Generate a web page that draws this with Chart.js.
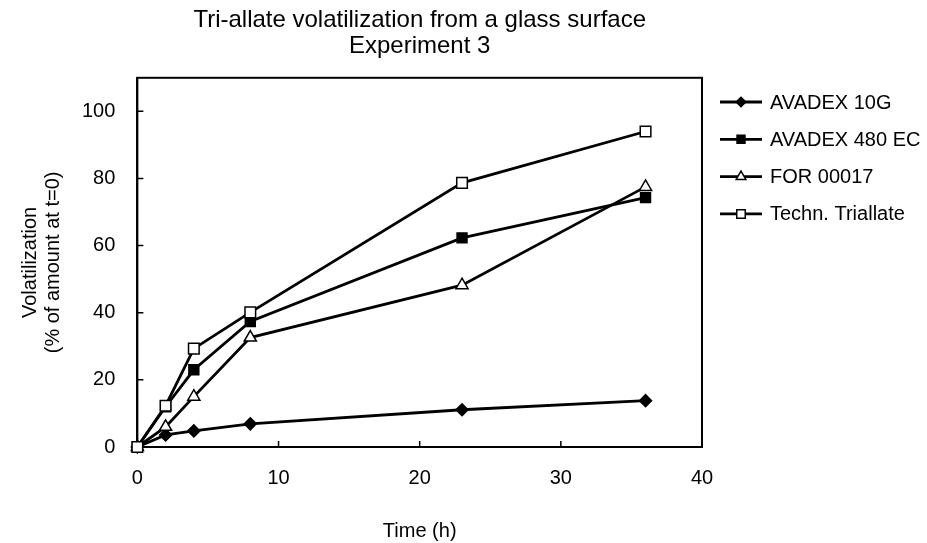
<!DOCTYPE html>
<html>
<head>
<meta charset="utf-8">
<script src="https://cdn.jsdelivr.net/npm/chart.js@4.4.1/dist/chart.umd.min.js"></script>
<style>
  html, body { margin: 0; padding: 0; background: #fff; }
  #wrap { width: 927px; height: 543px; }
</style>
</head>
<body>
<div id="wrap"><canvas id="chart1" width="927" height="543"></canvas></div>
<script>
var FONT = "'Liberation Sans Narrow', 'Arial Narrow', 'Liberation Sans', sans-serif";

var times = [0, 2, 4, 8, 23, 36];
var avadex10g = [0, 3.6, 4.8, 6.9, 11.1, 13.8];
var avadex480ec = [0, 12, 23, 37.4, 62.3, 74.3];
var for00017 = [0, 6, 15, 32.6, 48.2, 77.5];
var technTriallate = [0, 12.3, 29.3, 40.1, 78.7, 94];
var seriesNames = ["AVADEX 10G", "AVADEX 480 EC", "FOR 00017", "Techn. Triallate"];
var xTicks = [0, 10, 20, 30, 40];
var yTicks = [0, 20, 40, 60, 80, 100];

function pts(vals) {
    return times.map(function (t, i) { return { x: t, y: vals[i] }; });
}

function makeSet(name, vals, style, fill, r, order) {
    return {
        label: name,
        data: pts(vals),
        borderColor: '#000',
        borderWidth: 2.8,
        pointStyle: style,
        pointRadius: r,
        pointHoverRadius: r,
        pointBackgroundColor: fill,
        pointBorderColor: '#000',
        pointBorderWidth: 1.5,
        tension: 0,
        clip: false,
        order: order
    };
}

// frame around plot + inward ticks
var framePlugin = {
    id: 'frame',
    beforeDatasetsDraw: function (chart) {
        var ctx = chart.ctx, a = chart.chartArea;
        var xs = chart.scales.x, ys = chart.scales.y;
        ctx.save();
        ctx.strokeStyle = '#000';
        ctx.lineWidth = 2;
        ctx.strokeRect(a.left, a.top, a.right - a.left, a.bottom - a.top);
        ctx.lineWidth = 1.5;
        ctx.beginPath();
        xTicks.forEach(function (v) {
            var px = xs.getPixelForValue(v);
            ctx.moveTo(px, a.bottom);
            ctx.lineTo(px, a.bottom - 6);
        });
        yTicks.forEach(function (v) {
            var py = ys.getPixelForValue(v);
            ctx.moveTo(a.left, py);
            ctx.lineTo(a.left + 6, py);
        });
        ctx.stroke();
        ctx.restore();
    }
};

// legend: line + marker + text, right of the plot
var legendPlugin = {
    id: 'sideLegend',
    afterDraw: function (chart) {
        var ctx = chart.ctx;
        var x0 = 720, y0 = 102, step = 37.3;
        ctx.save();
        chart.data.datasets.forEach(function (ds, i) {
            var y = y0 + i * step;
            ctx.strokeStyle = '#000';
            ctx.lineWidth = 2.8;
            ctx.beginPath();
            ctx.moveTo(x0, y);
            ctx.lineTo(x0 + 42, y);
            ctx.stroke();
            ctx.fillStyle = ds.pointBackgroundColor;
            ctx.lineWidth = 1.5;
            Chart.helpers.drawPoint(ctx, { pointStyle: ds.pointStyle, radius: ds.pointRadius * 0.8, borderWidth: 1.5, rotation: 0 }, x0 + 21, y);
            ctx.fillStyle = '#000';
            ctx.font = '20px ' + FONT;
            ctx.textBaseline = 'middle';
            ctx.textAlign = 'left';
            ctx.fillText(ds.label, x0 + 50, y + 1);
        });
        ctx.restore();
    }
};

var chartCanvas1 = document.getElementById('chart1');
var configCanvas1 = {
    type: 'line',
    data: {
        datasets: [
            makeSet(seriesNames[0], avadex10g, 'rectRot', '#000', 6, 3),
            makeSet(seriesNames[1], avadex480ec, 'rect', '#000', 7, 2),
            makeSet(seriesNames[2], for00017, 'triangle', '#fff', 7, 1),
            makeSet(seriesNames[3], technTriallate, 'rect', '#fff', 7.5, 0)
        ]
    },
    options: {
        responsive: false,
        animation: false,
        layout: { padding: { top: 0, right: 225, left: 19, bottom: 0 } },
        plugins: {
            legend: { display: false },
            tooltip: { enabled: false },
            title: {
                display: true,
                fullSize: false,
                text: ['Tri-allate volatilization from a glass surface', 'Experiment 3'],
                color: '#000',
                font: { family: FONT, size: 24, weight: 'normal', lineHeight: 1.1 },
                padding: { top: 7, bottom: 18 }
            }
        },
        scales: {
            x: {
                type: 'linear',
                min: 0,
                max: 40,
                afterBuildTicks: function (s) { s.ticks = xTicks.map(function (v) { return { value: v }; }); },
                grid: { display: false },
                border: { display: true, color: '#000', width: 2 },
                ticks: { color: '#000', padding: 11, font: { family: FONT, size: 20 } },
                title: { display: true, text: 'Time (h)', color: '#000', font: { family: FONT, size: 20 }, padding: { top: 18, bottom: 0 } }
            },
            y: {
                type: 'linear',
                min: 0,
                max: 110,
                afterBuildTicks: function (s) { s.ticks = yTicks.map(function (v) { return { value: v }; }); },
                grid: { display: false },
                border: { display: true, color: '#000', width: 2 },
                ticks: { color: '#000', padding: 14, font: { family: FONT, size: 20 } },
                title: { display: true, text: ['Volatilization', '(% of amount at t=0)'], color: '#000', font: { family: FONT, size: 20, lineHeight: 1.15 }, padding: { top: 0, bottom: 3 } }
            }
        }
    },
    plugins: [framePlugin, legendPlugin]
};

var myChart1 = new Chart(chartCanvas1, configCanvas1);
</script>
</body>
</html>
